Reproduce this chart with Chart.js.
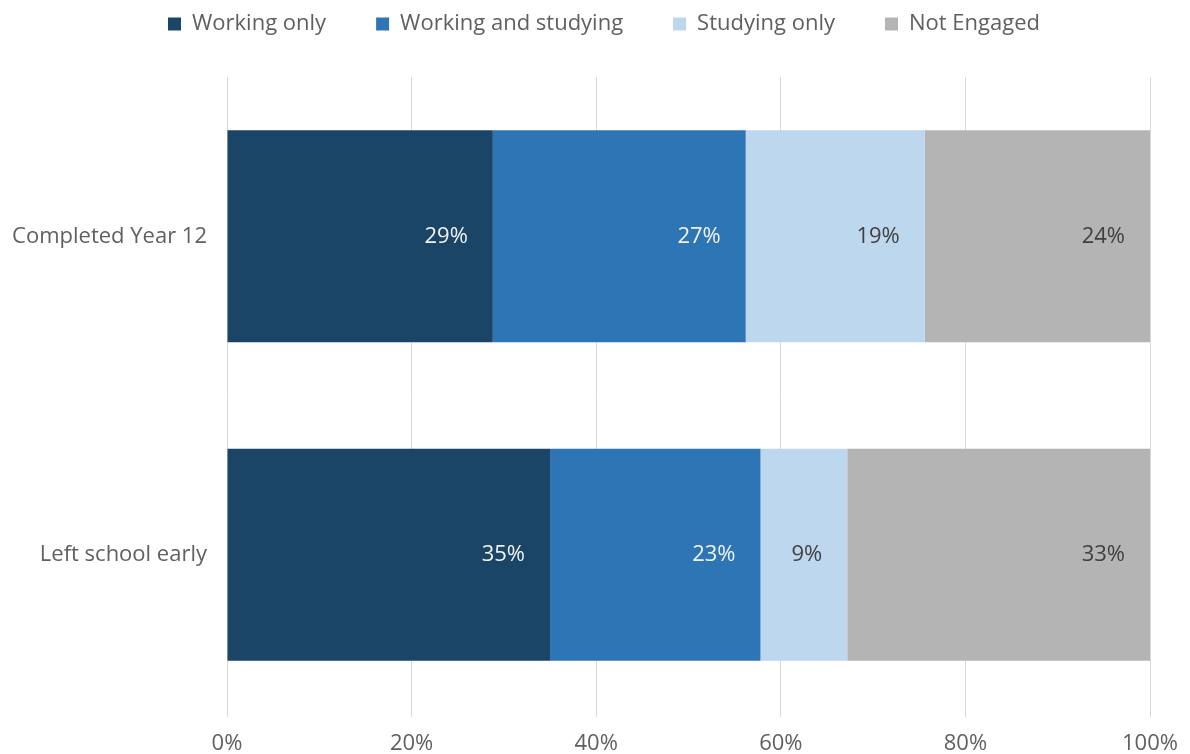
<!DOCTYPE html>
<html>
<head>
<meta charset="utf-8">
<script src="https://cdn.jsdelivr.net/npm/chart.js@4.4.1/dist/chart.umd.min.js"></script>
<style>
  html, body { margin: 0; padding: 0; background: #fff; }
  #wrap { width: 1190px; height: 754px; }
</style>
</head>
<body>
<div id="wrap"><canvas id="outcomeChart"></canvas></div>
<script>
const groups = ["Completed Year 12", "Left school early"];
const seriesNames = ["Working only", "Working and studying", "Studying only", "Not Engaged"];
const workingOnly = [28.8, 35.0];
const workingAndStudying = [27.4, 22.8];
const studyingOnly = [19.4, 9.4];
const notEngaged = [24.4, 32.8];
const xTicks = [0, 20, 40, 60, 80, 100];

const colors = ["#1a4567", "#2e75b6", "#bdd7ee", "#b4b4b4"];
const labelColors = ["#f2f2f2", "#f2f2f2", "#404040", "#404040"];
const textGrey = "#606060";
const FONT = '"Open Sans", "Noto Sans", sans-serif';

/* legend sits higher, with a gap before the plot, centred over the bars */
const legendPlacement = {
  id: "legendPlacement",
  beforeInit(chart) {
    const fit = chart.legend.fit;
    chart.legend.fit = function () {
      fit.bind(chart.legend)();
      this.height += 32;
    };
  },
  afterLayout(chart) {
    chart.legend.left += 58;
  }
};

/* value labels at the right end of each segment */
const segmentLabels = {
  id: "segmentLabels",
  afterDatasetsDraw(chart) {
    const ctx = chart.ctx;
    ctx.save();
    ctx.font = "22px " + FONT;
    ctx.textAlign = "right";
    ctx.textBaseline = "middle";
    chart.data.datasets.forEach((ds, i) => {
      chart.getDatasetMeta(i).data.forEach((bar, j) => {
        ctx.fillStyle = labelColors[i];
        ctx.fillText(Math.round(ds.data[j]) + "%", bar.x - 25, bar.y);
      });
    });
    ctx.restore();
  }
};

const seriesData = [workingOnly, workingAndStudying, studyingOnly, notEngaged];

new Chart(document.getElementById("outcomeChart"), {
  type: "bar",
  data: {
    labels: groups,
    datasets: seriesNames.map((name, i) => ({
      label: name,
      data: seriesData[i],
      backgroundColor: colors[i],
      borderWidth: 0,
      barPercentage: 0.666,
      categoryPercentage: 1
    }))
  },
  options: {
    indexAxis: "y",
    responsive: true,
    maintainAspectRatio: false,
    animation: false,
    devicePixelRatio: 1,
    layout: { padding: { top: -37, left: 0, right: 40, bottom: 0 } },
    plugins: {
      tooltip: { enabled: false },
      legend: {
        position: "top",
        labels: {
          boxWidth: 13,
          boxHeight: 13,
          padding: 50,
          color: textGrey,
          font: { family: FONT, size: 22 }
        }
      }
    },
    scales: {
      x: {
        stacked: true,
        min: 0,
        max: 100,
        afterBuildTicks(scale) {
          scale.ticks = xTicks.map(v => ({ value: v }));
        },
        afterFit(scale) {
          scale.paddingLeft = 0;
          scale.paddingRight = 0;
          scale.height = 40;
        },
        ticks: {
          callback: v => v + "%",
          color: textGrey,
          padding: 14,
          font: { family: FONT, size: 22 }
        },
        grid: { color: "#d9d9d9", lineWidth: 1, drawTicks: true, tickLength: 3 },
        border: { display: false }
      },
      y: {
        stacked: true,
        afterFit(scale) {
          scale.width = 227;
        },
        ticks: {
          color: textGrey,
          padding: 20,
          font: { family: FONT, size: 22 }
        },
        grid: { display: false, drawTicks: false },
        border: { display: false }
      }
    }
  },
  plugins: [legendPlacement, segmentLabels]
});
</script>
</body>
</html>
